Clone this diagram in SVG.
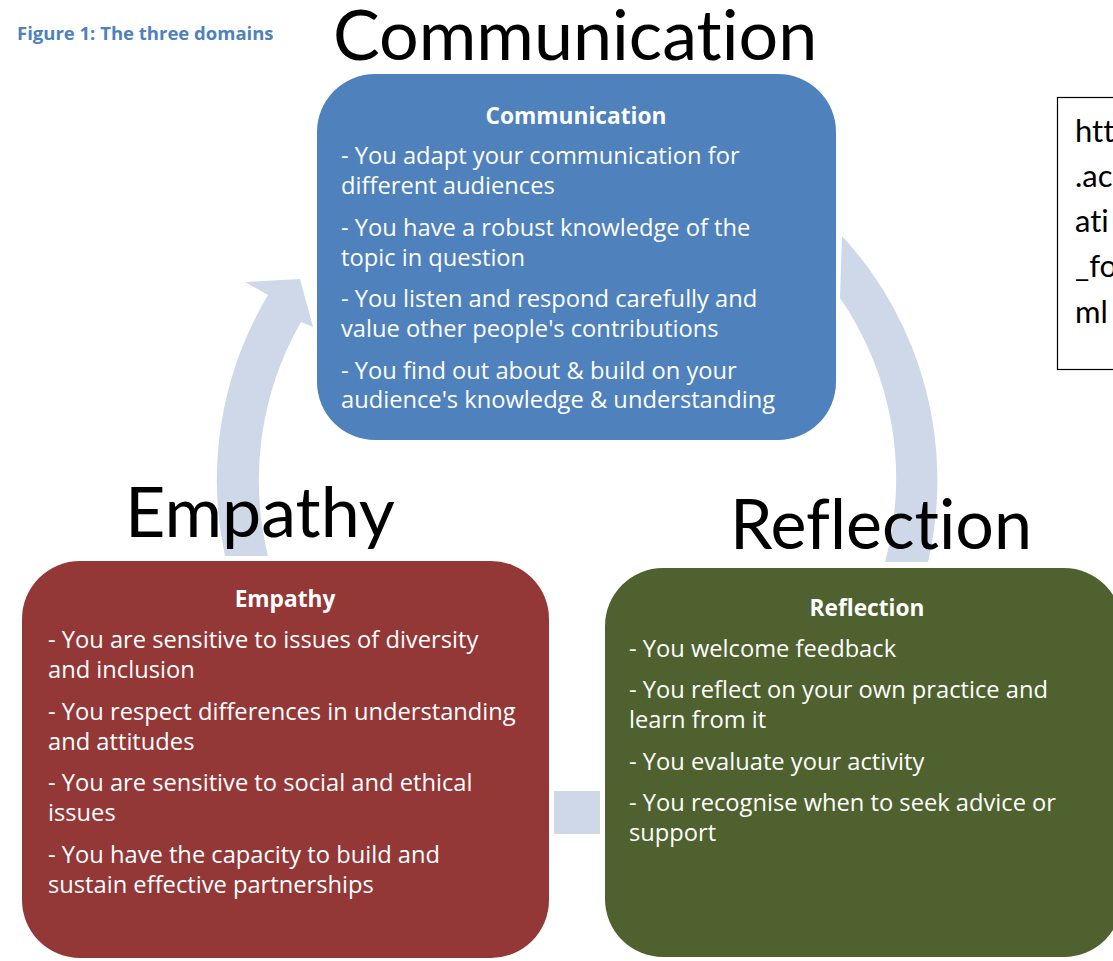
<svg xmlns="http://www.w3.org/2000/svg" width="1113" height="961" viewBox="0 0 1113 961">
<style>
text{font-variant-ligatures:none}
.body{font-family:"Open Sans","Liberation Sans",sans-serif;font-size:23.7px;fill:#ffffff}
.ttl{font-family:"Open Sans","Liberation Sans",sans-serif;font-size:22.7px;font-weight:bold;fill:#ffffff;text-anchor:middle}
.big{font-family:Lato,"Liberation Sans",sans-serif;font-size:70px;fill:#000000}
.arrow{fill:#CFD8E8}
.url{font-family:Lato,"Liberation Sans",sans-serif;font-size:31px;fill:#000000}
</style>
<rect width="1113" height="961" fill="#ffffff"/>
<text x="17" y="40" font-family="'Open Sans','Liberation Sans',sans-serif" font-size="18.5" font-weight="bold" fill="#4F81BD">Figure 1: The three domains</text>
<g id="connectors">
<path class="arrow" d="M225,556 A360,360 0 0 1 268,295 L245,282 L300,279 L313,327 L301,322 A318,318 0 0 0 268,556 Z"/>
<path class="arrow" d="M842,236 A360,360 0 0 1 928,562 L885,562 A318,318 0 0 0 840,298 Z"/>
<rect class="arrow" x="554" y="791" width="46" height="43"/>
</g>
<g id="communication">
<rect x="317" y="74" width="519" height="366" rx="58" ry="58" fill="#4F81BD"/>
<text class="ttl" x="576" y="124">Communication</text>
<text class="body" x="341" y="164">- You adapt your communication for</text>
<text class="body" x="341" y="194">different audiences</text>
<text class="body" x="341" y="235.5">- You have a robust knowledge of the</text>
<text class="body" x="341" y="265.5">topic in question</text>
<text class="body" x="341" y="307">- You listen and respond carefully and</text>
<text class="body" x="341" y="337">value other people's contributions</text>
<text class="body" x="341" y="378.5">- You find out about &amp; build on your</text>
<text class="body" x="341" y="408">audience's knowledge &amp; understanding</text>
</g>
<g id="empathy">
<rect x="22" y="561" width="527" height="397" rx="58" ry="58" fill="#943737"/>
<text class="ttl" x="285" y="607">Empathy</text>
<text class="body" x="48" y="648">- You are sensitive to issues of diversity</text>
<text class="body" x="48" y="678">and inclusion</text>
<text class="body" x="48" y="720">- You respect differences in understanding</text>
<text class="body" x="48" y="750">and attitudes</text>
<text class="body" x="48" y="791">- You are sensitive to social and ethical</text>
<text class="body" x="48" y="821">issues</text>
<text class="body" x="48" y="863">- You have the capacity to build and</text>
<text class="body" x="48" y="893">sustain effective partnerships</text>
</g>
<g id="reflection">
<rect x="605" y="568" width="517" height="389" rx="58" ry="58" fill="#4F612E"/>
<text class="ttl" x="867" y="616">Reflection</text>
<text class="body" x="629" y="657">- You welcome feedback</text>
<text class="body" x="629" y="698">- You reflect on your own practice and</text>
<text class="body" x="629" y="728">learn from it</text>
<text class="body" x="629" y="770">- You evaluate your activity</text>
<text class="body" x="629" y="811">- You recognise when to seek advice or</text>
<text class="body" x="629" y="841">support</text>
</g>
<g id="label-communication"><text class="big" x="333" y="60">Communication</text></g>
<g id="label-empathy"><text class="big" x="125" y="537">Empathy</text></g>
<g id="label-reflection"><text class="big" x="730" y="549" textLength="302" lengthAdjust="spacingAndGlyphs">Reflection</text></g>
<g id="url-box">
<rect x="1057.5" y="97.5" width="70" height="272" fill="#ffffff" stroke="#000000" stroke-width="1.2"/>
<text class="url" x="1075" y="142">htt</text>
<text class="url" x="1075" y="187">.ac</text>
<text class="url" x="1075" y="232">ati</text>
<text class="url" x="1075" y="277">_fo</text>
<text class="url" x="1075" y="323">ml</text>
</g>
</svg>
